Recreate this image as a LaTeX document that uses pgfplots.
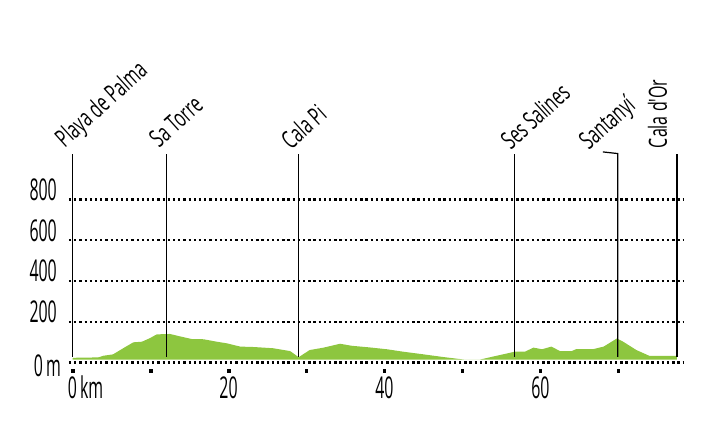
\documentclass[border=0pt]{standalone}
\usepackage{fontspec}
\setmainfont{Open Sans}
\newfontfamily\tickfont{Open Sans}[FakeStretch=0.53]
\newfontfamily\labfont{Open Sans}[FakeStretch=0.64]
\usepackage{pgfplots}
\pgfplotsset{compat=1.18}
\definecolor{profgreen}{RGB}{141,198,63}
\begin{document}
\begin{tikzpicture}
\begin{axis}[
  at={(0,0)}, anchor=south west,
  scale only axis, width=615bp, height=212bp,
  xmin=-0.45, xmax=78.4, ymin=0, ymax=1040,
  clip=false,
  axis line style={draw=none},
  tick style={draw=none},
  major tick length=0pt,
  /pgf/number format/assume math mode=true,
  xtick={0,20,40,60},
  xticklabels={0\rlap{\kern3bp km},20,40,60},
  ytick={0,200,400,600,800},
  yticklabels={\raisebox{-12.5bp}[0pt][0pt]{0\kern3bp m}\kern-4bp,200,400,600,800},
  ticklabel style={font=\tickfont\fontsize{30bp}{30bp}\selectfont, inner sep=0pt},
  xticklabel style={anchor=base, yshift=-35.5bp},
  yticklabel style={anchor=base east, xshift=-12bp, yshift=-1bp},
  ymajorgrids,
  grid style={black, line width=2.3bp, dash pattern=on 2.3bp off 2.9bp},
]
\addplot[fill=profgreen, draw=none] coordinates {
(0,14) (0,23) (3.3,25) (3.95,33) (5.2,40) (6.5,70) (7.8,99) (8.9,102) (9.9,119)
(10.8,138) (12.5,140) (13.8,128) (15.3,115) (16.8,114) (18.5,102) (19.8,94)
(21.5,78) (23.2,76) (25.7,70) (27.9,56) (29.0,26) (30.4,61) (32.2,73) (34.3,92)
(35.8,82) (38.1,74) (40.3,65) (42.4,53) (45.0,40) (47.5,27) (50.3,14) (52.2,14)
(53.9,29) (55.2,40) (56.7,53) (58.0,53) (59.1,73) (60.2,65) (61.4,78) (62.5,56)
(64.0,56) (64.6,66) (66.8,66) (68.1,78) (69.8,118) (70.6,102) (72.3,61) (74.0,32)
(77.5,32) (77.5,14)} -- cycle;
\addplot[black, line width=1.2bp] coordinates {(0,28) (0,1022)};
\addplot[black, line width=1.2bp] coordinates {(12.07,28) (12.07,1022)};
\addplot[black, line width=1.2bp] coordinates {(28.95,28) (28.95,1022)};
\addplot[black, line width=1.2bp] coordinates {(56.7,28) (56.7,1022)};
\addplot[black, line width=1.2bp] coordinates {(69.9,28) (69.9,1025) (68.0,1033)};
\addplot[black, line width=1.2bp] coordinates {(77.5,28) (77.5,1022)};
\addplot[only marks, mark=square*, mark size=1.2bp, black] coordinates {
(0,-40) (10,-40) (20,-40) (30,-40) (40,-40) (50,-40) (60,-40) (70,-40)};
\begin{scope}[every node/.style={font=\labfont\fontsize{25bp}{25bp}\selectfont, inner sep=0pt, anchor=base west}]
\node[rotate=42] at (axis cs:-1.0,1050) {Playa de Palma};
\node[rotate=42] at (axis cs:11.1,1050) {Sa Torre};
\node[rotate=42] at (axis cs:28.0,1040) {Cala Pi};
\node[rotate=42] at (axis cs:56.2,1040) {Ses Salines};
\node[rotate=42] at (axis cs:66.2,1040) {Santanyí};
\node[rotate=90] at (axis cs:76.2,1051) {Cala d'Or};
\end{scope}
\end{axis}
\pgfresetboundingbox
\path[use as bounding box] (-69bp,-67.5bp) rectangle (643bp,362.5bp);
\end{tikzpicture}
\end{document}
